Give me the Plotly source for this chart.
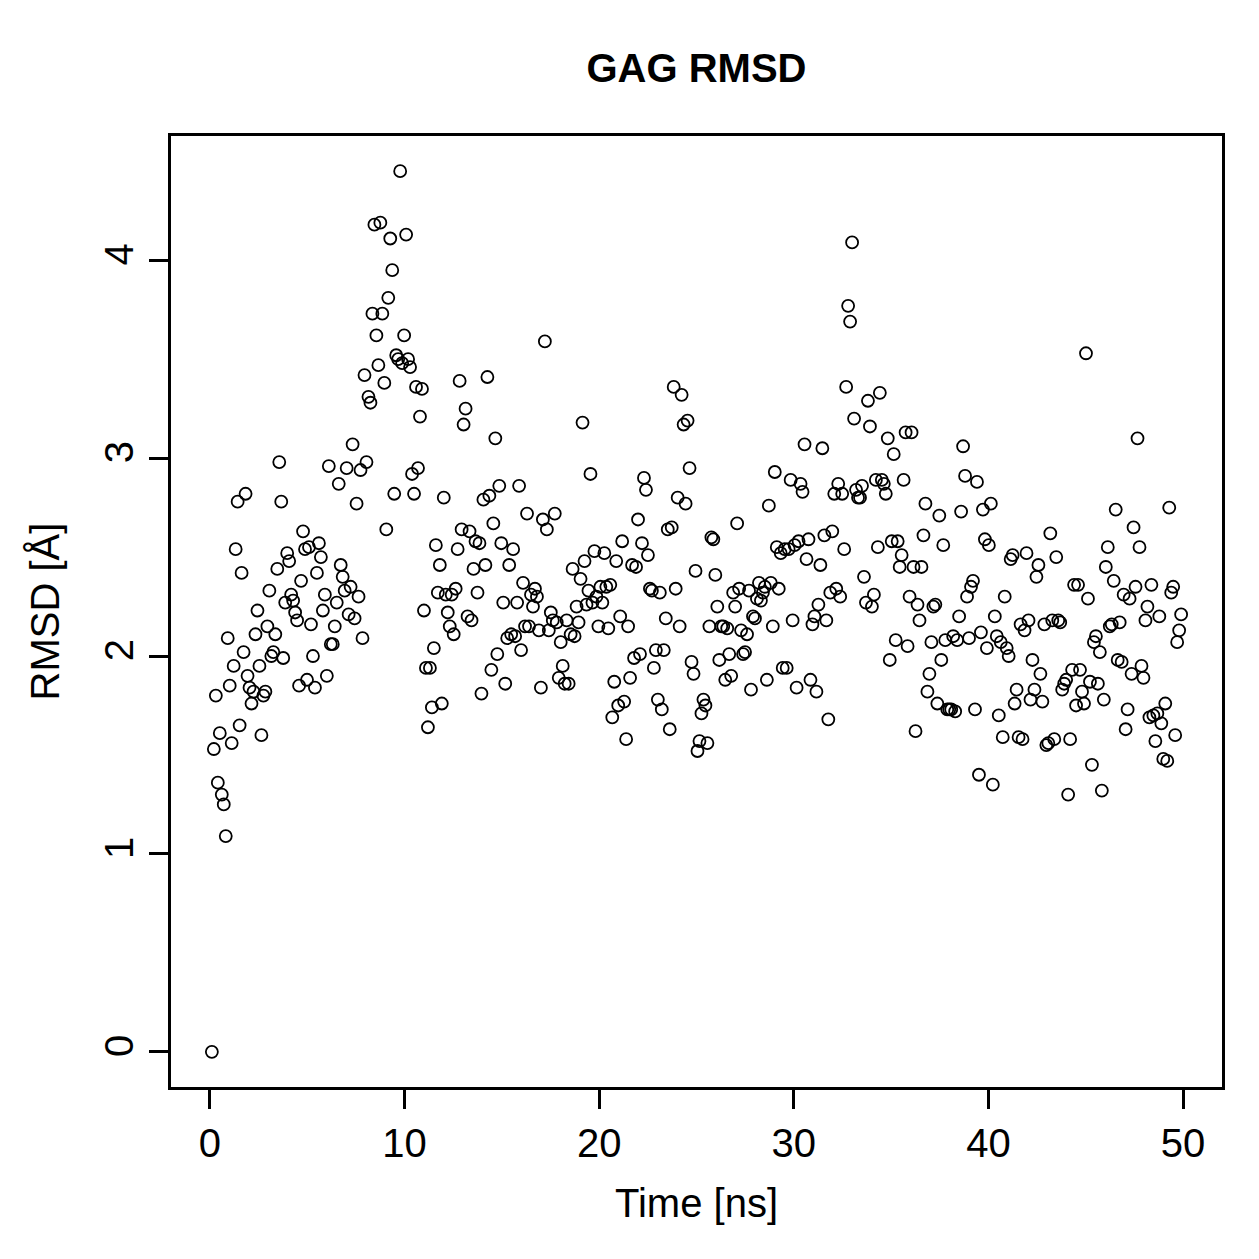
import numpy as np
import plotly.graph_objects as go

rmsd_0_10 = [0, 1.53, 1.80, 1.36, 1.61, 1.30, 1.25, 1.09, 2.09, 1.85, 1.56, 1.95, 2.54, 2.78, 1.65, 2.42, 2.02, 2.82, 1.90, 1.84,
             1.76, 1.82, 2.11, 2.23, 1.95, 1.60, 1.80, 1.82, 2.15, 2.33, 2.00, 2.02, 2.11, 2.44, 2.98, 2.78, 1.99, 2.27, 2.52, 2.48,
             2.31, 2.28, 2.22, 2.18, 1.85, 2.38, 2.63, 2.54,
             1.88, 2.55, 2.16, 2.00, 1.84, 2.42, 2.57, 2.50, 2.23, 2.31, 1.90, 2.96, 2.06, 2.06, 2.15, 2.27, 2.87, 2.46, 2.40, 2.33,
             2.95, 2.21, 2.35, 3.07, 2.19, 2.77, 2.30, 2.94, 2.09, 3.42, 2.98, 3.31, 3.28, 3.73, 4.18, 3.62, 3.47, 4.19, 3.73, 3.38,
             2.64, 3.81, 4.11, 3.95, 2.82, 3.52, 3.50, 4.45, 3.48, 3.62, 4.13]
rmsd_10_20 = [3.50, 3.46, 2.92, 2.82, 3.36, 2.95, 3.21, 3.35, 2.23, 1.94, 1.64, 1.94, 1.74, 2.04, 2.56, 2.32, 2.46, 1.76, 2.80, 2.31,
              2.22, 2.15, 2.31, 2.11, 2.34, 2.54, 3.39, 2.64, 3.17, 3.25, 2.20, 2.63, 2.18, 2.44, 2.58, 2.32, 2.57, 1.81, 2.79, 2.46,
              3.41, 2.81, 1.93, 2.67, 3.10, 2.01, 2.86, 2.57,
              2.27, 1.86, 2.09, 2.46, 2.11, 2.54, 2.10, 2.27, 2.86, 2.03, 2.37, 2.15, 2.72, 2.15, 2.31, 2.25, 2.34, 2.30, 2.13, 1.84,
              2.69, 3.59, 2.64, 2.13, 2.22, 2.18, 2.72, 2.17, 1.89, 2.07, 1.95, 1.86, 2.18, 1.86, 2.11, 2.44, 2.10, 2.25, 2.17, 2.39,
              3.18, 2.48, 2.26, 2.33, 2.92, 2.27, 2.53, 2.30]
rmsd_20_30 = [2.15, 2.35, 2.27, 2.52, 2.35, 2.14, 2.36, 1.69, 1.87, 2.48, 1.75, 2.20, 2.58, 1.77, 1.58, 2.15, 1.89, 2.46, 1.99, 2.45,
              2.69, 2.01, 2.57, 2.90, 2.84, 2.51, 2.34, 2.33, 1.94, 2.03, 1.78, 2.32, 1.73, 2.03, 2.19, 2.64, 1.63, 2.65, 3.36, 2.34,
              2.80, 2.15, 3.32, 3.17, 2.77, 3.19, 2.95, 1.97, 1.91, 2.43,
              1.52, 1.57, 1.71, 1.78, 1.75, 1.56, 2.15, 2.60, 2.59, 2.41, 2.25, 1.98, 2.15, 2.15, 1.88, 2.14, 2.01, 1.90, 2.32, 2.25,
              2.67, 2.34, 2.13, 2.01, 2.02, 2.11, 2.33, 1.83, 2.20, 2.19, 2.29, 2.37, 2.28, 2.32, 2.35, 1.88, 2.76, 2.37, 2.15, 2.93,
              2.55, 2.34, 2.52, 1.94, 2.54, 1.94, 2.54, 2.89, 2.18, 2.56]
rmsd_30_40 = [1.84, 2.58, 2.87, 2.83, 3.07, 2.49, 2.59, 1.88, 2.16, 2.20, 1.82, 2.26, 2.46, 3.05, 2.61, 2.18, 1.68, 2.32, 2.63, 2.82,
              2.34, 2.87, 2.30, 2.82, 2.54, 3.36, 3.77, 3.69, 4.09, 3.20, 2.84, 2.80, 2.80, 2.86, 2.40, 2.27, 3.29, 3.16, 2.25, 2.31,
              2.89, 2.55, 3.33, 2.89, 2.87, 2.82, 3.10, 1.98, 2.58, 3.02,
              2.08, 2.58, 2.45, 2.51, 2.89, 3.13, 2.05, 2.30, 3.13, 2.45, 1.62, 2.26, 2.18, 2.45, 2.61, 2.77, 1.82, 1.91, 2.07, 2.25,
              2.26, 1.76, 2.71, 1.98, 2.56, 2.08, 1.73, 1.73, 1.73, 2.10, 1.72, 2.08, 2.20, 2.73, 3.06, 2.91, 2.30, 2.09, 2.35, 2.38,
              1.73, 2.88, 1.40, 2.12, 2.74, 2.59, 2.04, 2.56, 2.77, 1.35]
rmsd_40_50 = [2.20, 2.10, 1.70, 2.07, 1.59, 2.30, 2.04, 2.00, 2.49, 2.51, 1.76, 1.83, 1.59, 2.16, 1.58, 2.13, 2.52, 2.18, 1.78, 1.98,
              1.83, 2.40, 2.46, 1.91, 1.77, 2.16, 1.55, 1.56, 2.62, 2.18, 1.58, 2.50, 2.18, 2.17, 1.83, 1.86, 1.88, 1.30, 1.58, 1.93,
              2.36, 1.75, 2.36, 1.93, 1.82, 1.76, 3.53, 2.29, 1.87, 1.45,
              2.07, 2.10, 1.86, 2.02, 1.32, 1.78, 2.45, 2.55, 2.15, 2.16, 2.38, 2.74, 1.98, 2.17, 1.97, 2.31, 1.63, 1.73, 2.29, 1.91,
              2.65, 2.35, 3.10, 2.55, 1.95, 1.89, 2.18, 2.25, 1.69, 2.36, 1.70, 1.57, 1.71, 2.20, 1.66, 1.48, 1.76, 1.47, 2.75, 2.32,
              2.35, 1.60, 2.07, 2.13, 2.21]

rmsd = rmsd_0_10 + rmsd_10_20 + rmsd_20_30 + rmsd_30_40 + rmsd_40_50
time_ns = np.linspace(0.1, 49.9, len(rmsd))

x_ticks = [0, 10, 20, 30, 40, 50]
y_ticks = [0, 1, 2, 3, 4]

FONT = "Liberation Sans, Arial, Helvetica, sans-serif"

fig = go.Figure()
fig.add_trace(go.Scatter(
    x=time_ns, y=rmsd, mode="markers",
    marker=dict(symbol="circle-open", size=12, color="black", line=dict(width=1.8, color="black")),
    showlegend=False,
))

fig.update_layout(
    width=1259, height=1259,
    margin=dict(l=171, r=37, t=136, b=172),
    paper_bgcolor="white", plot_bgcolor="white",
    font=dict(family=FONT, size=40, color="black"),
    title=dict(text="<b>GAG RMSD</b>", x=0.5, xref="paper", y=1 - 68 / 1259, yref="container",
               xanchor="center", yanchor="middle", font=dict(size=40, family=FONT)),
)

fig.update_xaxes(
    range=[-2, 52], tickvals=x_ticks, ticks="outside", ticklen=19, tickwidth=2.5, tickcolor="black",
    showline=True, linewidth=2.5, linecolor="black", mirror=True, showgrid=False, zeroline=False,
    tickfont=dict(size=40), title=dict(text="Time [ns]", font=dict(size=40), standoff=26),
)
fig.update_yaxes(
    range=[-0.178, 4.628], tickvals=y_ticks, ticks="outside", ticklen=19, tickwidth=2.5, tickcolor="black",
    showline=True, linewidth=2.5, linecolor="black", mirror=True, showgrid=False, zeroline=False,
    tickangle=-90, tickfont=dict(size=40), title=dict(text="RMSD [Å]", font=dict(size=40), standoff=26),
)

fig.write_html("out.html")
